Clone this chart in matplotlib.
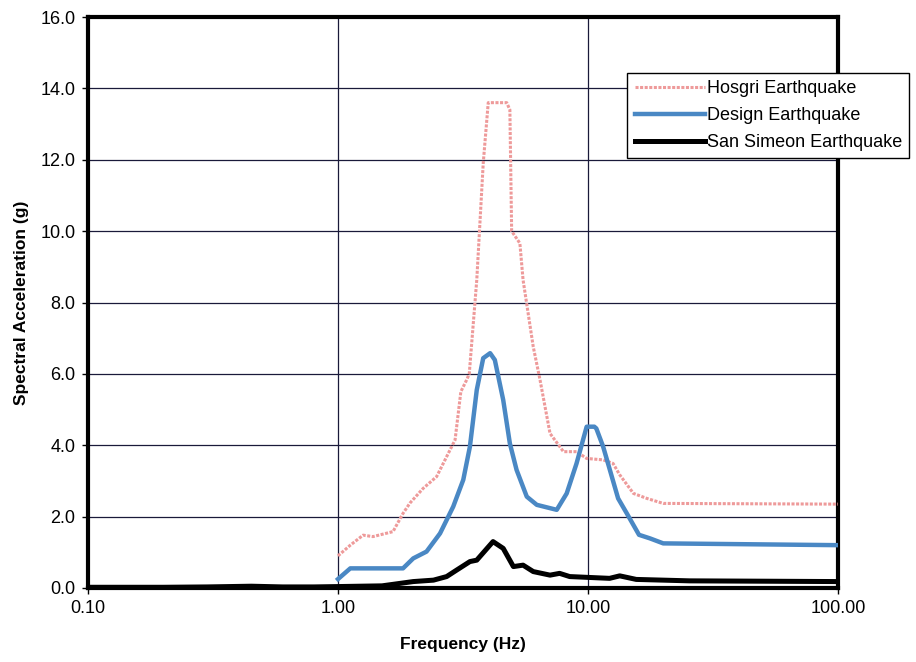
import matplotlib
matplotlib.use("Agg")
import matplotlib.pyplot as plt
from matplotlib.ticker import FixedLocator, NullLocator, FixedFormatter

plt.rcParams['font.family'] = ['Liberation Sans', 'DejaVu Sans']

hosgri_f = [1.0, 1.12, 1.26, 1.38, 1.66, 1.82, 1.94, 2.19, 2.48, 2.72, 2.94, 3.1, 3.27, 3.35,
            3.59, 3.81, 3.99, 4.73, 4.87, 4.95, 5.34, 5.5, 6.04, 6.43, 7.05, 7.98, 9.0, 9.88,
            11.5, 12.6, 13.4, 15.2, 17.2, 20.0, 100.0]
hosgri_a = [0.9, 1.2, 1.48, 1.44, 1.58, 2.09, 2.38, 2.79, 3.12, 3.68, 4.15, 5.5, 5.83, 6.0,
            8.63, 11.9, 13.6, 13.6, 13.4, 10.0, 9.66, 8.63, 6.76, 5.83, 4.33, 3.82, 3.82, 3.63,
            3.59, 3.49, 3.17, 2.65, 2.51, 2.37, 2.35]

design_f = [1.0, 1.12, 1.82, 2.0, 2.26, 2.56, 2.89, 3.17, 3.37, 3.59, 3.81, 4.06, 4.24, 4.58,
            4.87, 5.18, 5.69, 6.24, 7.5, 8.22, 9.0, 9.88, 10.6, 10.8, 11.5, 13.2, 14.3, 16.0,
            17.7, 20.0, 100.0]
design_a = [0.25, 0.55, 0.55, 0.83, 1.02, 1.53, 2.28, 3.03, 3.96, 5.55, 6.44, 6.58, 6.39, 5.27,
            4.05, 3.31, 2.56, 2.33, 2.19, 2.65, 3.49, 4.52, 4.52, 4.47, 3.96, 2.51, 2.09, 1.49,
            1.39, 1.25, 1.2]

simeon_f = [0.1, 0.2, 0.3, 0.45, 0.6, 0.8, 1.0, 1.5, 2.0, 2.41, 2.72, 2.98, 3.37, 3.59, 4.17,
            4.58, 5.03, 5.5, 6.04, 7.05, 7.7, 8.45, 12.2, 13.4, 15.6, 25.5, 100.0]
simeon_a = [0.02, 0.02, 0.03, 0.05, 0.03, 0.03, 0.04, 0.06, 0.18, 0.22, 0.32, 0.5, 0.74, 0.78,
            1.3, 1.11, 0.6, 0.64, 0.46, 0.36, 0.41, 0.32, 0.27, 0.34, 0.24, 0.2, 0.18]

fig = plt.figure(figsize=(9.16, 6.62), dpi=100)
ax = fig.add_axes([0.0961, 0.1118, 0.8187, 0.8625])

ax.plot(hosgri_f, hosgri_a, color='#ee9a9a', linewidth=2.2, linestyle=(0, (1, 0.5)),
        label='Hosgri Earthquake', zorder=3)
ax.plot(design_f, design_a, color='#4a88c4', linewidth=3.2, label='Design Earthquake', zorder=4)
ax.plot(simeon_f, simeon_a, color='black', linewidth=3.6, label='San Simeon Earthquake', zorder=5)

ax.set_xscale('log')
ax.set_xlim(0.1, 100)
ax.set_ylim(0, 16)
ax.xaxis.set_major_locator(FixedLocator([0.1, 1, 10, 100]))
ax.xaxis.set_major_formatter(FixedFormatter(['0.10', '1.00', '10.00', '100.00']))
ax.xaxis.set_minor_locator(NullLocator())
ax.set_yticks([0, 2, 4, 6, 8, 10, 12, 14, 16])
ax.set_yticklabels(['%.1f' % v for v in range(0, 17, 2)])
ax.tick_params(axis='both', labelsize=13, length=4, width=1, direction='out', pad=5)
ax.grid(True, color='#1a1a3a', linewidth=0.9)
ax.set_axisbelow(True)
for s in ax.spines.values():
    s.set_linewidth(3)

ax.set_xlabel('Frequency (Hz)', fontsize=12.5, fontweight='bold', labelpad=14)
ax.set_ylabel('Spectral Acceleration (g)', fontsize=12.5, fontweight='bold', labelpad=8)

leg = fig.legend(loc='upper left', bbox_to_anchor=(0.685, 0.890), fontsize=13,
                 frameon=True, fancybox=False, edgecolor='black', framealpha=1,
                 handlelength=3.9, handletextpad=0.1, borderpad=0.4, labelspacing=0.55,
                 borderaxespad=0)
leg.get_frame().set_linewidth(1)

fig.savefig('out.png', dpi=100)
